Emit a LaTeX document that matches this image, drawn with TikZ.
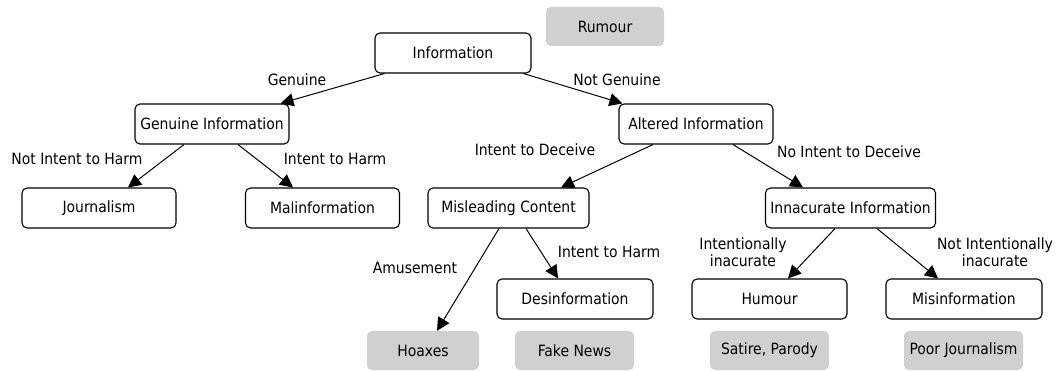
\documentclass[tikz,border=0pt]{standalone}
\usepackage{fontspec}
\setmainfont{DejaVu Sans Condensed}
\usepackage[HTML]{xcolor}
\usetikzlibrary{arrows.meta}
\definecolor{boxgray}{HTML}{D0D0D0}

\begin{document}
\begin{tikzpicture}[x=1pt,y=-1pt,
  font=\fontsize{15.5}{17.5}\selectfont,
  box/.style={draw,line width=1.1pt,rounded corners=5pt,minimum height=40pt,minimum width=#1,inner sep=0pt},
  tag/.style={fill=boxgray,rounded corners=5pt,minimum height=39pt,minimum width=#1,inner sep=0pt},
  arr/.style={-{Triangle[length=13pt,width=13pt]},line width=1pt},
  lbl/.style={align=center,inner sep=0pt}]
\useasboundingbox (0,0) rectangle (1062,371);

% nodes (categories)
\node[tag=118pt] (Rumour) at (605,26.5) {Rumour};
\node[box=156pt] (Info) at (453,53) {Information};
\node[box=154pt] (GenInfo) at (212,124) {Genuine Information};
\node[box=154pt] (AltInfo) at (696,124) {Altered Information};
\node[box=154pt] (Journ) at (99,208) {Journalism};
\node[box=154pt] (Malinf) at (322.5,208) {Malinformation};
\node[box=161pt] (Mislead) at (508.5,208) {Misleading Content};
\node[box=170pt] (Innac) at (850.5,208) {Innacurate Information};
\node[box=156pt] (Desinf) at (575,299) {Desinformation};
\node[box=155pt] (Humour) at (769.5,299) {Humour};
\node[box=156pt] (Misinf) at (964,299) {Misinformation};

% examples (grey)
\node[tag=112pt] (Hoaxes) at (423,350.5) {Hoaxes};
\node[tag=119pt] (Fake) at (574.5,350.5) {Fake News};
\node[tag=119pt] (Satire) at (769.5,350.5) {Satire, Parody};
\node[tag=119pt] (Poor) at (963.5,350.5) {Poor Journalism};

% arrows
\draw[arr] ([xshift=10pt]Info.south west) -- ([xshift=-9pt]GenInfo.north east);
\draw[arr] ([xshift=-8pt]Info.south east) -- ([xshift=4pt]AltInfo.north west);
\draw[arr] ([xshift=-28pt]GenInfo.south) -- ([xshift=29pt]Journ.north);
\draw[arr] ([xshift=26pt]GenInfo.south) -- ([xshift=-29.5pt]Malinf.north);
\draw[arr] ([xshift=-43pt]AltInfo.south) -- ([xshift=52.5pt]Mislead.north);
\draw[arr] ([xshift=37pt]AltInfo.south) -- ([xshift=-47.5pt]Innac.north);
\draw[arr] ([xshift=-9.5pt]Mislead.south) -- ([xshift=14pt]Hoaxes.north);
\draw[arr] ([xshift=17.5pt]Mislead.south) -- ([xshift=-17pt]Desinf.north);
\draw[arr] ([xshift=-15.5pt]Innac.south) -- ([xshift=18.5pt]Humour.north);
\draw[arr] ([xshift=26.5pt]Innac.south) -- ([xshift=-26pt]Misinf.north);

% annotations
\node[lbl] (lGen) at (297,80) {Genuine};
\node[lbl] (lNotGen) at (617,80) {Not Genuine};
\node[lbl] (lNoHarm) at (77,159) {Not Intent to Harm};
\node[lbl] (lHarmA) at (335,159) {Intent to Harm};
\node[lbl] (lDec) at (535,150) {Intent to Deceive};
\node[lbl] (lNoDec) at (849,152) {No Intent to Deceive};
\node[lbl] (lAmuse) at (415,268) {Amusement};
\node[lbl] (lHarmB) at (609,252) {Intent to Harm};
\node[lbl] (lIntent) at (743,252) {Intentionally\\inacurate};
\node[lbl] (lNoIntent) at (995,252) {Not Intentionally\\inacurate};
\end{tikzpicture}
\end{document}
